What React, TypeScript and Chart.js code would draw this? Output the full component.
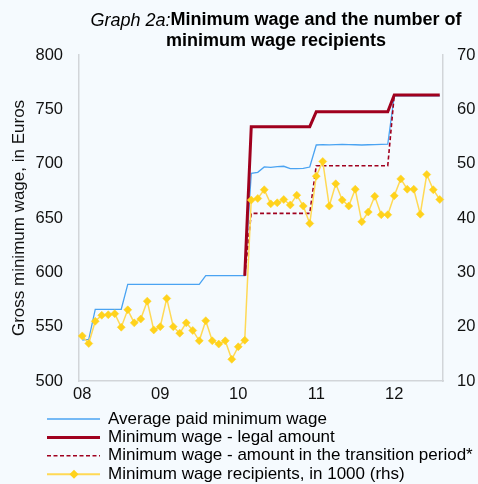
import React, { useEffect, useRef } from 'react';
import { Chart, registerables } from 'chart.js';

Chart.register(...registerables);

const FONT = '"Liberation Sans", Arial, Helvetica, sans-serif';

const months = [
  'Jan 08', 'Feb 08', 'Mar 08', 'Apr 08', 'May 08', 'Jun 08', 'Jul 08', 'Aug 08', 'Sep 08', 'Oct 08', 'Nov 08', 'Dec 08',
  'Jan 09', 'Feb 09', 'Mar 09', 'Apr 09', 'May 09', 'Jun 09', 'Jul 09', 'Aug 09', 'Sep 09', 'Oct 09', 'Nov 09', 'Dec 09',
  'Jan 10', 'Feb 10', 'Mar 10', 'Apr 10', 'May 10', 'Jun 10', 'Jul 10', 'Aug 10', 'Sep 10', 'Oct 10', 'Nov 10', 'Dec 10',
  'Jan 11', 'Feb 11', 'Mar 11', 'Apr 11', 'May 11', 'Jun 11', 'Jul 11', 'Aug 11', 'Sep 11', 'Oct 11', 'Nov 11', 'Dec 11',
  'Jan 12', 'Feb 12', 'Mar 12', 'Apr 12', 'May 12', 'Jun 12', 'Jul 12', 'Aug 12',
];

const yearTickLabels = ['08', '09', '10', '11', '12'];

const avgPaidMinWage = [
  537.7, 538.4, 566, 566, 566, 566, 566, 589, 589, 589, 589, 589,
  589, 589, 589, 589, 589, 589, 589, 596.9, 596.9, 596.9, 596.9, 596.9,
  596.9, 596.9, 691.1, 692.0, 697.0, 696.6, 697.2, 697.6, 695.4, 695.4, 695.7, 696.9,
  717.2, 717.5, 717.3, 717.6, 717.8, 717.5, 717.4, 717.2, 717.4, 717.6, 717.8, 717.9,
  762.3, 762.5, 762.5, 762.5, 762.5, 762.5, 762.5, 762.5,
];

const legalMinWage = [
  null, null, null, null, null, null, null, null, null, null, null, null,
  null, null, null, null, null, null, null, null, null, null, null, null,
  null, 596.9, 734, 734, 734, 734, 734, 734, 734, 734, 734, 734,
  747.8, 747.8, 747.8, 747.8, 747.8, 747.8, 747.8, 747.8, 747.8, 747.8, 747.8, 747.8,
  763.2, 763.2, 763.2, 763.2, 763.2, 763.2, 763.2, 763.2,
];

const transitionMinWage = [
  null, null, null, null, null, null, null, null, null, null, null, null,
  null, null, null, null, null, null, null, null, null, null, null, null,
  null, 596.9, 654.3, 654.3, 654.3, 654.3, 654.3, 654.3, 654.3, 654.3, 654.3, 654.3,
  698.1, 698.1, 698.1, 698.1, 698.1, 698.1, 698.1, 698.1, 698.1, 698.1, 698.1, 698.1,
  763.2, 763.2, 763.2, 763.2, 763.2, 763.2, 763.2, 763.2,
];

const recipients = [
  18.3, 16.9, 21.0, 22.1, 22.2, 22.4, 19.9, 23.1, 20.7, 21.4, 24.7, 19.4,
  20.0, 25.2, 20.0, 18.8, 20.7, 19.3, 17.4, 21.1, 17.4, 16.8, 17.4, 14.0,
  16.3, 17.5, 43.3, 43.6, 45.2, 42.6, 42.8, 43.4, 42.4, 44.2, 42.2, 39.0,
  47.7, 50.4, 42.2, 46.3, 43.3, 42.2, 45.3, 39.3, 41.1, 44.0, 40.6, 40.6,
  44.1, 47.2, 45.3, 45.3, 40.7, 48.0, 45.2, 43.4,
];

const seriesNames = [
  'Average paid minimum wage',
  'Minimum wage - legal amount',
  'Minimum wage - amount in the transition period*',
  'Minimum wage recipients, in 1000 (rhs)',
];

const titleItalic = 'Graph 2a:';
const titleBoldLine1 = 'Minimum wage and the number of';
const titleBoldLine2 = 'minimum wage recipients';
const leftAxisTitle = 'Gross minimum wage, in Euros';

const BLUE = '#4AA3F2';
const RED = '#A0001E';
const YELLOW_LINE = '#FFD955';
const YELLOW_MARK = '#FFD21C';

const overlayPlugin = {
  id: 'overlayText',
  afterDraw(chart: any) {
    const ctx = chart.ctx as CanvasRenderingContext2D;
    ctx.save();
    ctx.fillStyle = '#000';
    ctx.textBaseline = 'middle';
    ctx.textAlign = 'left';
    const itFont = `italic 18px ${FONT}`;
    const bdFont = `bold 18px ${FONT}`;
    ctx.font = itFont;
    const w1 = ctx.measureText(titleItalic).width;
    ctx.font = bdFont;
    const w2 = ctx.measureText(titleBoldLine1).width;
    const cx = 276;
    const x0 = cx - (w1 + w2) / 2;
    ctx.font = itFont;
    ctx.fillText(titleItalic, x0, 20.5);
    ctx.font = bdFont;
    ctx.fillText(titleBoldLine1, x0 + w1, 20.5);
    ctx.textAlign = 'center';
    ctx.fillText(titleBoldLine2, cx, 41.5);

    // legend
    const rows = [
      { name: seriesNames[0], color: BLUE, width: 1.5, dash: [] as number[], marker: false },
      { name: seriesNames[1], color: RED, width: 3, dash: [] as number[], marker: false },
      { name: seriesNames[2], color: RED, width: 1.5, dash: [4, 2.5], marker: false },
      { name: seriesNames[3], color: YELLOW_LINE, width: 2, dash: [] as number[], marker: true },
    ];
    ctx.font = `17px ${FONT}`;
    ctx.textAlign = 'left';
    rows.forEach((r, i) => {
      const y = 419 + i * 18.4;
      ctx.save();
      ctx.strokeStyle = r.color;
      ctx.lineWidth = r.width;
      ctx.setLineDash(r.dash);
      ctx.beginPath();
      ctx.moveTo(47, y);
      ctx.lineTo(100, y);
      ctx.stroke();
      ctx.restore();
      if (r.marker) {
        ctx.fillStyle = YELLOW_MARK;
        ctx.beginPath();
        ctx.moveTo(74, y - 4.5);
        ctx.lineTo(78.5, y);
        ctx.lineTo(74, y + 4.5);
        ctx.lineTo(69.5, y);
        ctx.closePath();
        ctx.fill();
      }
      ctx.fillStyle = '#000';
      ctx.fillText(r.name, 108, y);
    });
    ctx.restore();
  },
};

export default function App() {
  const canvasRef = useRef<HTMLCanvasElement | null>(null);

  useEffect(() => {
    const canvas = canvasRef.current;
    if (!canvas) return;
    const chart = new Chart(canvas, {
      type: 'line',
      data: {
        labels: months,
        datasets: [
          {
            label: seriesNames[3],
            data: recipients,
            yAxisID: 'yR',
            borderColor: YELLOW_LINE,
            borderWidth: 1.5,
            pointStyle: 'rectRot',
            pointRadius: 4,
            pointBackgroundColor: YELLOW_MARK,
            pointBorderColor: YELLOW_MARK,
            pointBorderWidth: 0.5,
            tension: 0,
          },
          {
            label: seriesNames[2],
            data: transitionMinWage,
            yAxisID: 'yL',
            borderColor: RED,
            borderWidth: 1.6,
            borderDash: [4, 2.5],
            pointRadius: 0,
            tension: 0,
            spanGaps: false,
          },
          {
            label: seriesNames[1],
            data: legalMinWage,
            yAxisID: 'yL',
            borderColor: RED,
            borderWidth: 3,
            pointRadius: 0,
            tension: 0,
            spanGaps: false,
          },
          {
            label: seriesNames[0],
            data: avgPaidMinWage,
            yAxisID: 'yL',
            borderColor: BLUE,
            borderWidth: 1.3,
            pointRadius: 0,
            tension: 0,
          },
        ],
      },
      options: {
        animation: false,
        responsive: false,
        devicePixelRatio: 1,
        layout: { padding: { top: 55, left: 0, right: 0, bottom: 0 } },
        plugins: {
          legend: { display: false },
          title: { display: false },
          tooltip: { enabled: false },
        },
        scales: {
          x: {
            type: 'category',
            offset: true,
            grid: { display: false, drawTicks: false },
            border: { display: true, color: '#D2D5D9', width: 1.5 },
            ticks: {
              autoSkip: false,
              maxRotation: 0,
              minRotation: 0,
              padding: 4,
              color: '#111',
              font: { family: FONT, size: 16.5 },
              callback: (_v: any, index: number) =>
                index % 12 === 0 ? yearTickLabels[index / 12] : '',
            },
            afterFit: (scale: any) => {
              scale.height = 103;
            },
          },
          yL: {
            type: 'linear',
            position: 'left',
            min: 500,
            max: 800,
            grid: { display: false, drawTicks: false },
            border: { display: true, color: '#D2D5D9', width: 1.5 },
            ticks: {
              stepSize: 50,
              padding: 16,
              color: '#111',
              font: { family: FONT, size: 16.5 },
            },
            title: {
              display: true,
              text: leftAxisTitle,
              color: '#111',
              font: { family: FONT, size: 17 },
              padding: { top: 9, bottom: 0 },
            },
            afterFit: (scale: any) => {
              scale.width = 79;
            },
          },
          yR: {
            type: 'linear',
            position: 'right',
            min: 10,
            max: 70,
            grid: { display: false, drawTicks: false },
            border: { display: true, color: '#D2D5D9', width: 1.5 },
            ticks: {
              stepSize: 10,
              padding: 14,
              color: '#111',
              font: { family: FONT, size: 16.5 },
            },
            afterFit: (scale: any) => {
              scale.width = 35;
            },
          },
        },
      },
      plugins: [overlayPlugin],
    });
    return () => chart.destroy();
  }, []);

  return (
    <div
      style={{
        position: 'fixed',
        left: 0,
        top: 0,
        width: 478,
        height: 484,
        background: '#F5FAFE',
      }}
    >
      <canvas ref={canvasRef} width={478} height={484} style={{ display: 'block', width: 478, height: 484 }} />
    </div>
  );
}
